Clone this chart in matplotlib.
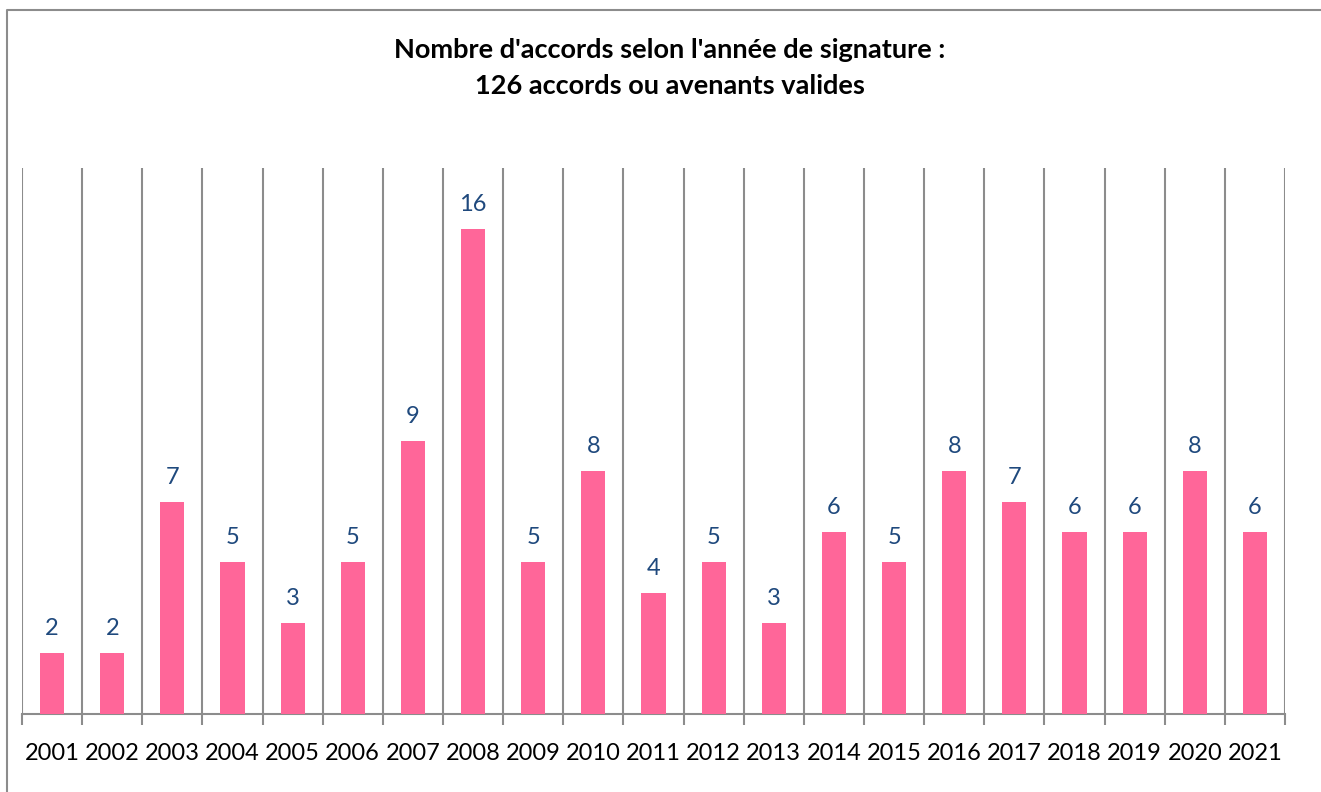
import matplotlib.pyplot as plt
from matplotlib.lines import Line2D

years = ['2001', '2002', '2003', '2004', '2005', '2006', '2007', '2008', '2009', '2010', '2011',
         '2012', '2013', '2014', '2015', '2016', '2017', '2018', '2019', '2020', '2021']
counts = [2, 2, 7, 5, 3, 5, 9, 16, 5, 8, 4, 5, 3, 6, 5, 8, 7, 6, 6, 8, 6]

plt.rcParams['font.family'] = ['Lato', 'DejaVu Sans']

W, H = 1321, 792
fig = plt.figure(figsize=(W / 100, H / 100), dpi=100)
ax = fig.add_axes([22 / W, 1 - 714 / H, (1285 - 22) / W, (714 - 168) / H])

x = list(range(len(years)))
ax.bar(x, counts, width=0.4, color='#FF6699', zorder=3)
for xi, v in zip(x, counts):
    ax.annotate(str(v), (xi, v), xytext=(0, 10), textcoords='offset points',
                ha='center', va='bottom', fontsize=17, color='#1F497D')

ax.set_xlim(-0.5, len(years) - 0.5)
ax.set_ylim(0, 18)
ax.set_yticks([])
ax.set_xticks([i - 0.5 for i in range(len(years) + 1)], minor=False)
ax.set_xticklabels([])
ax.set_xticks(x, minor=True)
ax.set_xticklabels(years, minor=True, fontsize=17)
ax.tick_params(axis='x', which='minor', length=0, pad=21)
ax.tick_params(axis='x', which='major', length=8, width=1.5, color='#8C8C8C')
ax.grid(axis='x', which='major', color='#8C8C8C', linewidth=1.5, zorder=0)
for s in ['top', 'left', 'right']:
    ax.spines[s].set_visible(False)
ax.spines['bottom'].set_color('#8C8C8C')
ax.spines['bottom'].set_linewidth(1.5)

fig.text(670 / W, 1 - 68 / H, "Nombre d'accords selon l'année de signature :\n126 accords ou avenants valides",
         ha='center', va='center', fontsize=19.5, fontweight='bold', linespacing=1.55)

fig.add_artist(Line2D([7 / W, 7 / W, 1], [0, 1 - 10 / H, 1 - 10 / H], color='#8C8C8C', linewidth=1.5))

fig.savefig('out.png', dpi=100)
